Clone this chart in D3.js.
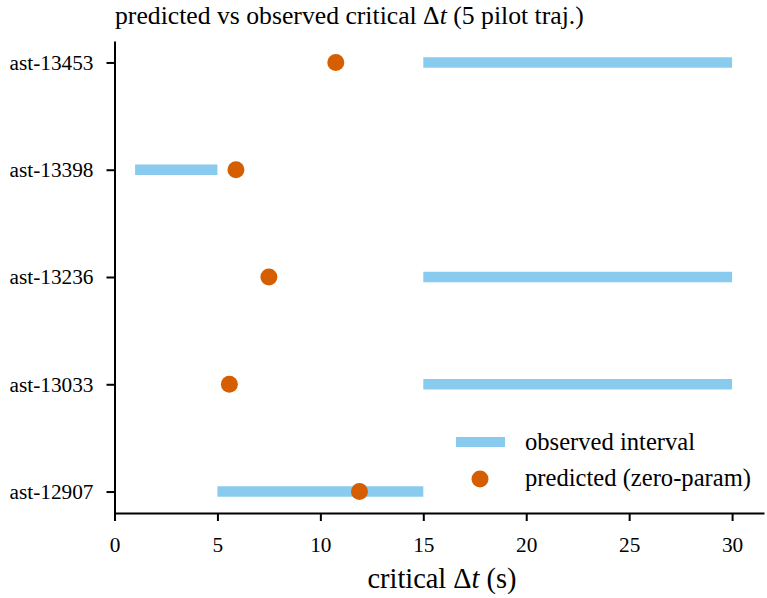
<!DOCTYPE html>
<html>
<head>
<meta charset="utf-8">
<script src="https://cdn.jsdelivr.net/npm/d3@7"></script>
<style>
  body { margin: 0; background: #fff; }
  svg text { font-family: "Liberation Serif", "Times New Roman", serif; fill: #000; }
</style>
</head>
<body>
<div id="chart"></div>
<script>
// critical dt: observed interval vs zero-param prediction
const trajectories = ["ast-12907", "ast-13033", "ast-13236", "ast-13398", "ast-13453"];
const observedLow  = [5, 15, 15, 1, 15];
const observedHigh = [15, 30, 30, 5, 30];
const predicted    = [11.9, 5.58, 7.5, 5.9, 10.75];
const xTicks = [0, 5, 10, 15, 20, 25, 30];

const W = 767, H = 598;
const mLeft = 114.5, mTop = 41, mRight = 764, mBottom = 513;
const blue = "#89cbee", orange = "#d55e00";

const svg = d3.select("#chart").append("svg")
  .attr("width", W).attr("height", H);

const x = d3.scaleLinear().domain([0, 31.55]).range([mLeft, mRight]);
const y = d3.scaleLinear().domain([-0.2, 4.2]).range([mBottom, mTop]);

// bars for observed intervals
svg.append("g").selectAll("line")
  .data(trajectories)
  .join("line")
  .attr("x1", (d, i) => x(observedLow[i]))
  .attr("x2", (d, i) => x(observedHigh[i]))
  .attr("y1", (d, i) => y(i))
  .attr("y2", (d, i) => y(i))
  .attr("stroke", blue)
  .attr("stroke-width", 10.5);

// predicted points
svg.append("g").selectAll("circle")
  .data(trajectories)
  .join("circle")
  .attr("cx", (d, i) => x(predicted[i]))
  .attr("cy", (d, i) => y(i))
  .attr("r", 8.5)
  .attr("fill", orange);

// axes
const xAxis = svg.append("g")
  .attr("transform", `translate(0,${mBottom})`)
  .call(d3.axisBottom(x).tickValues(xTicks).tickSize(8).tickSizeOuter(0));
const yAxis = svg.append("g")
  .attr("transform", `translate(${mLeft},0)`)
  .call(d3.axisLeft(y).tickValues(d3.range(trajectories.length))
    .tickFormat(i => trajectories[i]).tickSize(8).tickPadding(13).tickSizeOuter(0));

[xAxis, yAxis].forEach(g => {
  g.select(".domain").attr("stroke", "#000").attr("stroke-width", 2);
  g.selectAll(".tick line").attr("stroke", "#000").attr("stroke-width", 2);
  g.selectAll("text").style("font-family", "Liberation Serif, serif")
    .style("font-size", "21.3px").attr("fill", "#000");
});
xAxis.selectAll("text").attr("dy", null).attr("y", 39);

// title
const title = svg.append("text")
  .attr("x", 115).attr("y", 24)
  .style("font-size", "25.7px");
title.append("tspan").text("predicted vs observed critical Δ");
title.append("tspan").style("font-style", "italic").text("t");
title.append("tspan").text(" (5 pilot traj.)");

// x label
const xl = svg.append("text")
  .attr("x", 442).attr("y", 588)
  .attr("text-anchor", "middle")
  .style("font-size", "28.4px");
xl.append("tspan").text("critical Δ");
xl.append("tspan").style("font-style", "italic").text("t");
xl.append("tspan").text(" (s)");

// legend
const lg = svg.append("g");
lg.append("line")
  .attr("x1", 456).attr("x2", 505).attr("y1", 442).attr("y2", 442)
  .attr("stroke", blue).attr("stroke-width", 10);
lg.append("circle").attr("cx", 480).attr("cy", 479).attr("r", 8.5).attr("fill", orange);
lg.append("text").attr("x", 525).attr("y", 450).style("font-size", "24.6px").text("observed interval");
lg.append("text").attr("x", 525).attr("y", 486).style("font-size", "24.6px").text("predicted (zero-param)");
</script>
</body>
</html>
